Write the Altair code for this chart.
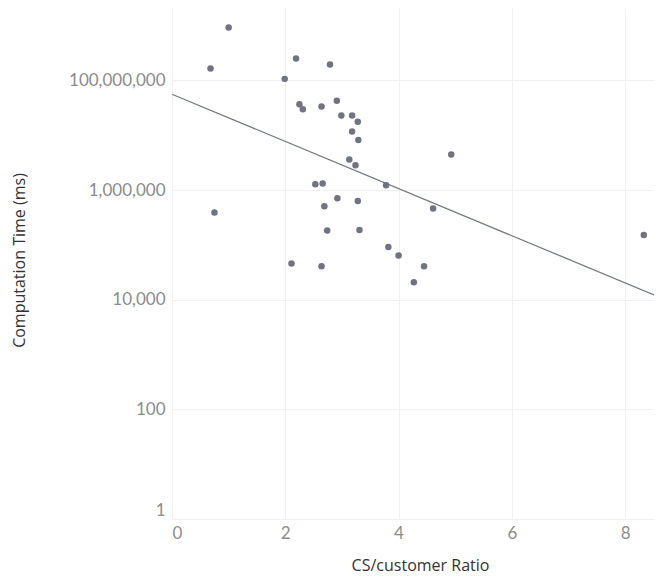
import altair as alt
import pandas as pd

ratio = [1.00, 0.68, 2.19, 2.79, 1.99, 2.25, 2.31, 2.64, 2.53, 2.66, 2.69, 2.74,
         0.75, 2.11, 2.64, 2.91, 2.99, 3.18, 3.28, 3.18, 3.29, 3.13, 3.24, 4.93,
         3.78, 2.92, 3.28, 4.61, 3.31, 8.33, 3.82, 4.00, 4.45, 4.27]
comp_time = [930000000, 166000000, 252000000, 196000000, 107000000, 37000000,
             30000000, 33600000, 1280000, 1320000, 510000, 183000,
             390000, 46000, 41000, 42500000, 23000000, 23000000, 17600000,
             11700000, 8200000, 3600000, 2850000, 4460000,
             1230000, 710000, 630000, 460000, 188000, 152000, 92000, 64000,
             41000, 20900]

y_ticks = [1, 100, 10000, 1000000, 100000000]
x_ticks = [0, 2, 4, 6, 8]

df = pd.DataFrame({"ratio": ratio, "time": comp_time})

X_MAX = 8.51
Y_MAX = 2.1e9

xscale = alt.Scale(domain=[0, X_MAX], nice=False, zero=False)
yscale = alt.Scale(type="log", domain=[1, Y_MAX], nice=False)

xaxis = alt.Axis(values=x_ticks, format="d", title="CS/customer Ratio", grid=True,
                 gridColor="#f0f0f0", domain=False, ticks=False, labelFlush=True,
                 labelFont="Lato", labelFontSize=17, labelColor="#8c8c8c",
                 labelPadding=6, titleFont="Open Sans", titleFontSize=16,
                 titleFontWeight="normal", titleColor="#333333",
                 titleX=248, titleY=46, titleBaseline="middle", titleAlign="center")
yaxis = alt.Axis(values=y_ticks, format=",", title="Computation Time (ms)",
                 grid=True, gridColor="#f0f0f0", domain=False, ticks=False,
                 labelFlush=True,
                 labelFont="Lato", labelFontSize=17, labelColor="#8c8c8c",
                 labelPadding=7, titleFont="Open Sans", titleFontSize=16,
                 titleFontWeight="normal", titleColor="#333333",
                 titleX=-153, titleY=252, titleBaseline="middle", titleAlign="center")

base = alt.Chart(df)

points = base.mark_circle(size=42, opacity=1, color="#6f7382").encode(
    x=alt.X("ratio:Q", scale=xscale, axis=xaxis),
    y=alt.Y("time:Q", scale=yscale, axis=yaxis),
)

trend = base.transform_calculate(
    ly="log(datum.time) / LN10"
).transform_regression(
    "ratio", "ly", extent=[0, X_MAX]
).transform_calculate(
    fit="pow(10, datum.ly)"
).mark_line(color="#767a88", strokeWidth=1.3).encode(
    x=alt.X("ratio:Q", scale=xscale),
    y=alt.Y("fit:Q", scale=yscale),
)

chart = alt.layer(trend, points).properties(
    width=482, height=511,
    autosize=alt.AutoSizeParams(type="none"),
    padding={"left": 164, "top": 0, "right": 0, "bottom": 59},
).configure_view(stroke=None)

chart.save("out.html", embed_options={"renderer": "svg", "actions": False})
